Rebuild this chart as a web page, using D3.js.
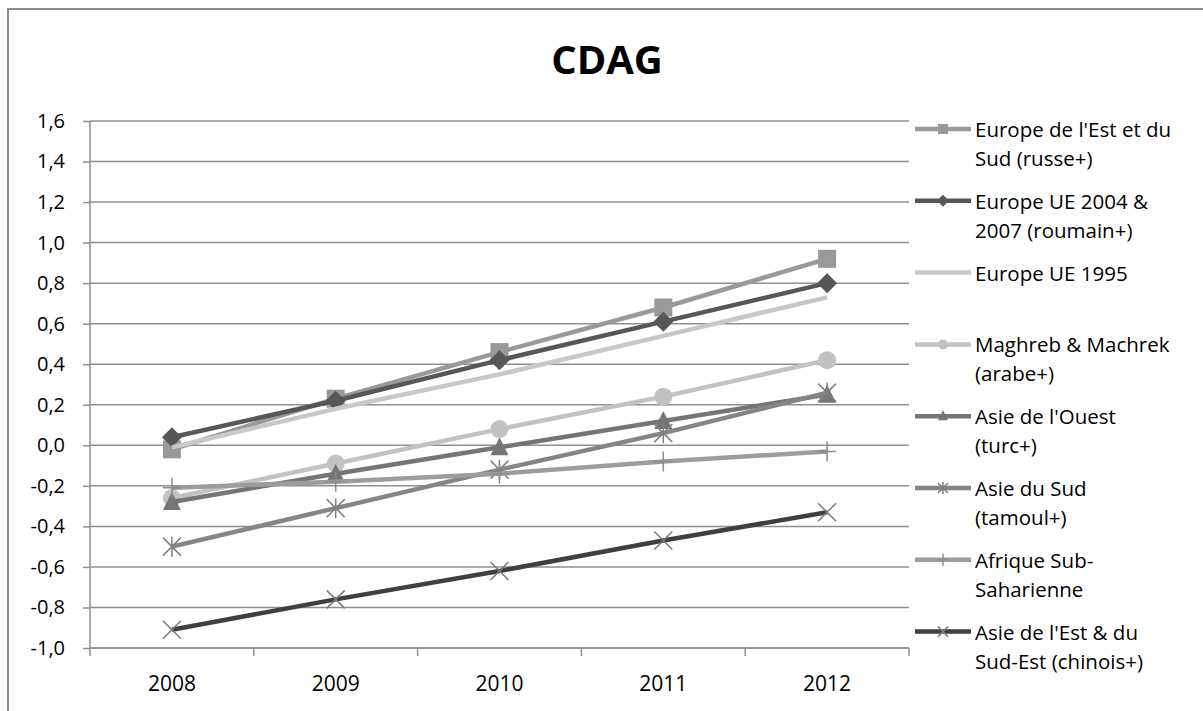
<!DOCTYPE html>
<html><head><meta charset="utf-8">
<script src="https://cdn.jsdelivr.net/npm/d3@7"></script>
<style>
html,body{margin:0;padding:0;background:#fff;}
svg{display:block;}
text{font-family:"Open Sans","Noto Sans",sans-serif;}
</style></head>
<body>
<svg id="chart" width="1203" height="711"></svg>
<script>
const title = "CDAG";
const years = ["2008","2009","2010","2011","2012"];
const yTicks = [-1.0,-0.8,-0.6,-0.4,-0.2,0.0,0.2,0.4,0.6,0.8,1.0,1.2,1.4,1.6];
const yTickLabels = ["-1,0","-0,8","-0,6","-0,4","-0,2","0,0","0,2","0,4","0,6","0,8","1,0","1,2","1,4","1,6"];

const seriesNames = [
  ["Europe de l'Est et du","Sud (russe+)"],
  ["Europe UE 2004 &","2007 (roumain+)"],
  ["Europe UE 1995"],
  ["Maghreb & Machrek","(arabe+)"],
  ["Asie de l'Ouest","(turc+)"],
  ["Asie du Sud","(tamoul+)"],
  ["Afrique Sub-","Saharienne"],
  ["Asie de l'Est & du","Sud-Est (chinois+)"]
];
const estSud     = [-0.02, 0.23, 0.46, 0.68, 0.92];
const ue2004     = [ 0.04, 0.22, 0.42, 0.61, 0.80];
const ue1995     = [-0.01, 0.18, 0.35, 0.54, 0.73];
const maghreb    = [-0.26,-0.09, 0.08, 0.24, 0.42];
const asieOuest  = [-0.28,-0.14,-0.01, 0.12, 0.25];
const asieSud    = [-0.50,-0.31,-0.12, 0.06, 0.26];
const afrique    = [-0.21,-0.18,-0.14,-0.08,-0.03];
const asieEst    = [-0.91,-0.76,-0.62,-0.47,-0.33];

const seriesValues = [estSud, ue2004, ue1995, maghreb, asieOuest, asieSud, afrique, asieEst];
const seriesColors = ["#999999","#575757","#c8c8c8","#c2c2c2","#757575","#858585","#9c9c9c","#3f3f3f"];
const seriesMarkers = ["square","diamond","none","circle","triangle","asterisk","plus","x"];

const svg = d3.select("#chart");
const W = 1203, H = 711;
const plot = {left: 90, right: 909, top: 121, bottom: 648};

// outer frame
svg.append("rect").attr("x",8).attr("y",9).attr("width",W+20).attr("height",H+20)
  .attr("fill","none").attr("stroke","#8c8c8c").attr("stroke-width",2);

const x = d3.scaleBand().domain(years).range([plot.left, plot.right]).padding(0);
const y = d3.scaleLinear().domain([-1.0, 1.6]).range([plot.bottom, plot.top]);

// gridlines
svg.append("g").selectAll("line").data(yTicks).join("line")
  .attr("x1", plot.left).attr("x2", plot.right)
  .attr("y1", d => y(d)).attr("y2", d => y(d))
  .attr("stroke", "#8f8f8f").attr("stroke-width", 1.5);

// y axis
const yAxis = d3.axisLeft(y).tickValues(yTicks).tickSize(7).tickPadding(18)
  .tickFormat((d,i) => yTickLabels[i]);
const gy = svg.append("g").attr("transform", `translate(${plot.left},0)`).call(yAxis);
gy.select(".domain").attr("stroke","#8f8f8f").attr("stroke-width",1.5).attr("d", `M0,${plot.top}V${plot.bottom}`);
gy.selectAll(".tick line").attr("stroke","#8f8f8f").attr("stroke-width",1.5);
gy.selectAll(".tick text").attr("font-size",20).attr("fill","#000").attr("font-family","'Open Sans',sans-serif");

// x axis
const xAxis = d3.axisBottom(x).tickSize(0).tickPadding(28);
const gx = svg.append("g").attr("transform", `translate(0,${plot.bottom})`).call(xAxis);
gx.select(".domain").remove();
gx.selectAll(".tick text").attr("font-size",21).attr("fill","#000").attr("font-family","'Open Sans',sans-serif");
const bounds = years.map(d => x(d)).concat([x(years[years.length-1]) + x.bandwidth()]);
gx.selectAll(".bt").data(bounds).join("line").attr("class","bt")
  .attr("x1", d => d).attr("x2", d => d).attr("y1", 0).attr("y2", 8)
  .attr("stroke","#8f8f8f").attr("stroke-width",1.5);
gx.append("line").attr("x1",plot.left).attr("x2",plot.right).attr("y1",0).attr("y2",0)
  .attr("stroke","#8f8f8f").attr("stroke-width",1.5);

// title
svg.append("text").attr("x", 607).attr("y", 74).attr("text-anchor","middle")
  .attr("font-size", 40).attr("font-weight","bold").attr("fill","#000").text(title);

function drawMarker(g, type, cx, cy, s, color) {
  const h = s/2;
  if (type === "square") {
    g.append("rect").attr("x",cx-h).attr("y",cy-h).attr("width",s).attr("height",s).attr("fill",color);
  } else if (type === "diamond") {
    g.append("path").attr("d",`M${cx},${cy-h-1}L${cx+h+1},${cy}L${cx},${cy+h+1}L${cx-h-1},${cy}Z`).attr("fill",color);
  } else if (type === "circle") {
    g.append("circle").attr("cx",cx).attr("cy",cy).attr("r",h).attr("fill",color);
  } else if (type === "triangle") {
    g.append("path").attr("d",`M${cx},${cy-h-1}L${cx+h},${cy+h-1}L${cx-h},${cy+h-1}Z`).attr("fill",color);
  } else if (type === "asterisk") {
    g.append("path").attr("d",`M${cx-h},${cy-h}L${cx+h},${cy+h}M${cx+h},${cy-h}L${cx-h},${cy+h}M${cx},${cy-h-1}V${cy+h+1}`)
      .attr("stroke","#808080").attr("stroke-width",1.5).attr("fill","none");
  } else if (type === "plus") {
    g.append("path").attr("d",`M${cx},${cy-h-1}V${cy+h+1}M${cx-h},${cy}H${cx+h}`)
      .attr("stroke","#8c8c8c").attr("stroke-width",1.5).attr("fill","none");
  } else if (type === "x") {
    g.append("path").attr("d",`M${cx-h},${cy-h}L${cx+h},${cy+h}M${cx+h},${cy-h}L${cx-h},${cy+h}`)
      .attr("stroke","#7a7a7a").attr("stroke-width",1.5).attr("fill","none");
  }
}

const line = d3.line().x((d,i) => x(years[i]) + x.bandwidth()/2).y(d => y(d));
const gs = svg.append("g");
seriesValues.forEach((vals, si) => {
  const g = gs.append("g");
  g.append("path").attr("d", line(vals)).attr("fill","none")
    .attr("stroke", seriesColors[si]).attr("stroke-width", 4.5).attr("stroke-linejoin","round");
  vals.forEach((v, i) => drawMarker(g, seriesMarkers[si], x(years[i]) + x.bandwidth()/2, y(v), 18, seriesColors[si]));
});

// legend
const legend = svg.append("g");
seriesNames.forEach((lines, si) => {
  const baseY = 137 + si * 71.8;
  const ly = baseY - 8;
  const g = legend.append("g");
  g.append("line").attr("x1", 915).attr("x2", 971).attr("y1", ly).attr("y2", ly)
    .attr("stroke", seriesColors[si]).attr("stroke-width", 4.5);
  drawMarker(g, seriesMarkers[si], 943, ly, 10, seriesColors[si]);
  lines.forEach((t, li) => {
    g.append("text").attr("x", 975).attr("y", baseY + li * 29).attr("font-size", 20.5)
      .attr("fill","#000").text(t);
  });
});
</script>
</body></html>
